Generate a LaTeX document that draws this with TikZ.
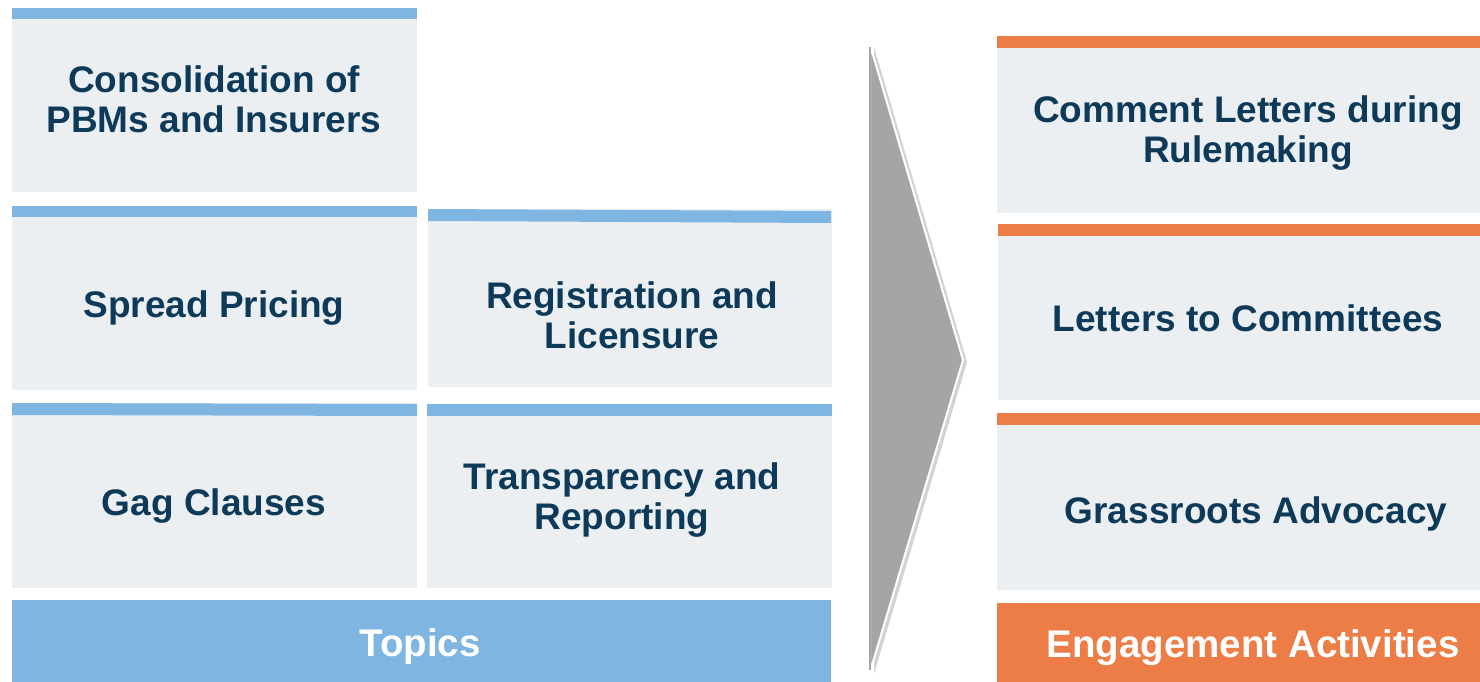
\documentclass[tikz,border=0pt]{standalone}
\usepackage{fontspec}
\setmainfont{Liberation Sans}
\usetikzlibrary{shadows}

\definecolor{panelgray}{HTML}{ECEFF2}
\definecolor{topicblue}{HTML}{7FB5E1}
\definecolor{actorange}{HTML}{ED7D46}
\definecolor{navytext}{HTML}{0E3A5A}
\definecolor{arrowgray}{HTML}{A5A5A5}

\tikzset{
	panel/.style={fill=panelgray},
	bluebar/.style={fill=topicblue},
	orangebar/.style={fill=actorange},
	boxtext/.style={align=center, text=navytext, yshift=-3pt, font=\fontsize{37}{40}\selectfont\bfseries},
	headtext/.style={align=center, text=white, yshift=-4pt, font=\fontsize{38.5}{42}\selectfont\bfseries}
}

\begin{document}
	\begin{tikzpicture}[x=1pt, y=-1pt]
		\useasboundingbox (0,0) rectangle (1480,682);

		% topic panels
		\fill[panel] (12,8) rectangle (417,192);
		\fill[bluebar] (12,8) rectangle (417,19);
		\fill[panel] (12,206) rectangle (417,390);
		\fill[bluebar] (12,206) rectangle (417,217);
		\fill[panel] (12,403) rectangle (417,588);
		\fill[bluebar] (12,403) -- (417,404) -- (417,416) -- (12,415) -- cycle;
		\fill[panel] (428,209) rectangle (832,387);
		\fill[bluebar] (428,209) -- (831,211) -- (831,223) -- (428,221) -- cycle;
		\fill[panel] (427,404) rectangle (832,588);
		\fill[bluebar] (427,404) rectangle (832,416);
		\fill[bluebar] (12,600) rectangle (831,682);

		\node[boxtext](consolidation) at (214,96){Consolidation of\\PBMs and Insurers};
		\node[boxtext](spread) at (214,305){Spread Pricing};
		\node[boxtext](gag) at (214,503){Gag Clauses};
		\node[boxtext](registration) at (632,312){Registration and\\Licensure};
		\node[boxtext](transparency) at (622,497){Transparency and\\Reporting};
		\node[headtext](topics) at (420,643){Topics};

		% chevron between the columns
		\filldraw[fill=arrowgray, draw=white, line width=2pt, line join=miter,
			drop shadow={shadow xshift=4pt, shadow yshift=-2pt, opacity=0.35}]
			(870,45) -- (963,360) -- (870,672) -- cycle;
		\fill[arrowgray] (869,47) rectangle (871,670);

		% engagement panels
		\fill[panel] (997,36) rectangle (1480,213);
		\fill[orangebar] (997,36) rectangle (1480,48);
		\fill[panel] (998,224) rectangle (1480,400);
		\fill[orangebar] (998,224) rectangle (1480,236);
		\fill[panel] (997,413) rectangle (1480,590);
		\fill[orangebar] (997,413) rectangle (1480,425);
		\fill[orangebar] (997,603) rectangle (1480,682);

		\node[boxtext](comment) at (1248,130){Comment Letters during\\Rulemaking};
		\node[boxtext](committees) at (1248,315){Letters to Committees};
		\node[boxtext](grassroots) at (1256,511){Grassroots Advocacy};
		\node[headtext](engagement) at (1253,644){Engagement Activities};
	\end{tikzpicture}
\end{document}
